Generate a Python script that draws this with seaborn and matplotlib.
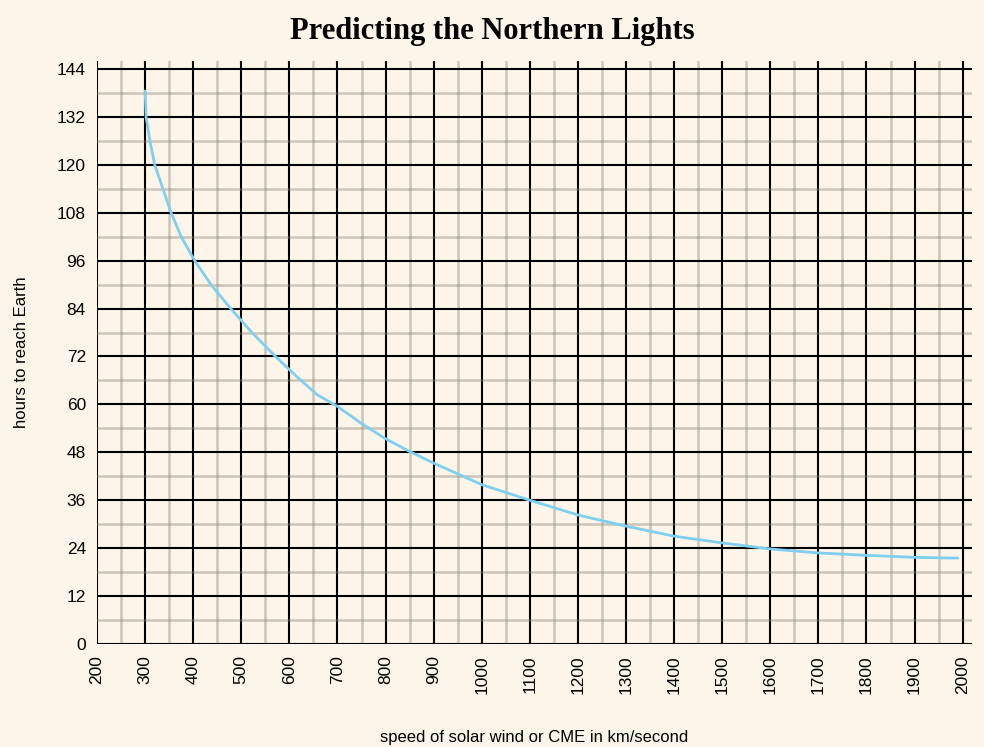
import numpy as np
import pandas as pd
import matplotlib
matplotlib.use("Agg")
import matplotlib.pyplot as plt
import seaborn as sns

# solar wind speed (km/s) vs travel time to Earth (hours)
speed = [300, 302, 310, 320, 337, 354, 375, 403, 437, 478, 522, 571, 615, 658, 700,
         750, 800, 850, 900, 1000, 1100, 1200, 1300, 1400, 1500, 1600, 1700, 1800, 1900, 1990]
hours = [138.5, 132, 126, 120, 114, 108, 102, 96, 90, 84, 78, 72, 67, 62.4, 59.5,
         55.2, 51.4, 48.2, 45.3, 39.9, 36, 32.3, 29.5, 27.0, 25.3, 23.8, 22.8, 22.2, 21.7, 21.5]

x_ticks = list(range(200, 2001, 100))
y_ticks = list(range(0, 145, 12))

df = pd.DataFrame({"speed": speed, "hours": hours})

sns.set_style("white")
plt.rcParams["font.family"] = ["Liberation Sans", "DejaVu Sans"]
plt.rcParams["text.color"] = "black"
plt.rcParams["axes.labelcolor"] = "black"
plt.rcParams["xtick.color"] = "black"
plt.rcParams["ytick.color"] = "black"

bg = "#fdf5e9"
fig = plt.figure(figsize=(9.84, 7.47), dpi=100, facecolor=bg)
ax = fig.add_axes([0.0986, 0.1379, 0.889, 0.7805], facecolor=bg)

sns.lineplot(data=df, x="speed", y="hours", color="#7fcfee", linewidth=2, ax=ax, zorder=5)

ax.set_xticks(x_ticks)
ax.set_xticks([v + 50 for v in x_ticks], minor=True)
ax.set_yticks(y_ticks)
ax.set_yticks([v + 6 for v in y_ticks], minor=True)
ax.set_xticklabels([str(v) for v in x_ticks], rotation=90)
ax.set_xlim(200, 2019)
ax.set_ylim(0, 146)

ax.grid(which="major", color="black", linewidth=1.5, zorder=2)
ax.grid(which="minor", color="#8c7f72", alpha=0.42, linewidth=1.8, zorder=1)
ax.set_axisbelow(True)
for s in ax.spines.values():
    s.set_visible(False)

ax.tick_params(which="major", length=6, width=1.5, color="black", labelcolor="black",
               labelsize=12.5, pad=2)
ax.tick_params(which="minor", length=5, width=1.8, color="#c2b8ad")

ax.set_xlabel("speed of solar wind or CME in km/second", fontsize=12, labelpad=26, color="black")
ax.set_ylabel("hours to reach Earth", fontsize=12, labelpad=20, color="black")

fig.suptitle("Predicting the Northern Lights", fontsize=22, fontweight="bold", color="black",
             family=["Liberation Serif", "DejaVu Serif"], y=0.958, va="center")

fig.savefig("out.png", dpi=100, facecolor=bg)
